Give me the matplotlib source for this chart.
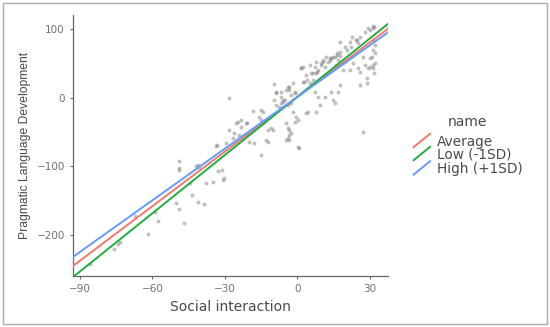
import matplotlib.pyplot as plt
import numpy as np
from matplotlib.lines import Line2D
from matplotlib.patches import Rectangle

plt.rcParams['font.family'] = ['DejaVu Sans']

# scatter points (Social interaction, Pragmatic Language Development)
social_x = [
    -76.0, -74.3, -73.5, -86.0, -67.1, -61.8, -59.1, -57.8,
    -49.0, -49.0, -48.8, -50.0, -48.8, -46.8, -44.4, -43.7,
    -41.9, -41.2, -40.7, -40.9, -38.8, -37.8, -34.7, -32.8, -30.9, -33.8,
    -28.2, -9.5, -8.8, -8.8, -6.7, -3.9, -3.2, -2.5, -1.1,
    -9.5, -8.8, -7.6, -6.9, -5.9, -5.2,
    -18.5, -15.0, -14.3, -25.4, -24.7, -23.3, -21.3, -20.6, -23.3,
    -28.2, -26.1, -24.0, -22.7, -33.1, -29.6, -26.8, -17.8, -19.9,
    -12.9, -12.2, -15.0, -15.7, -15.0, -13.6, -10.8, -10.2, -12.2,
    -4.6, -3.2, -2.5, -3.9, -3.2, 0.3, -31.0, -30.3,
    -6.7, -6.0, -4.6, -3.2, -1.8, -1.1, -3.9, -2.5,
    -1.8, -0.4, 0.3, -1.1, -3.9, -3.2, -4.6, 0.9,
    1.7, 3.7, 3.0, 5.1, 6.5, 7.2, 7.9, 8.6, 10.0, 10.7, 11.4, 12.1,
    12.8, 13.5, 14.8, 16.3, 16.9, 17.6,
    7.2, 8.6, 9.3, 7.9, 4.4, 3.7, 11.4, 14.2, 14.8, 15.5, 16.9, 17.6,
    19.0, 21.8, 23.2, 25.3, 26.0, 28.0, 29.4, 30.1, 31.5, 32.2, 30.1, 27.3,
    26.0, 28.8, 29.0, 31.5, 31.8, 27.3,
    31.5, 31.6, 31.3, 29.4, 30.1, 28.0, 26.0, 24.6, 22.5, 21.8, 19.7, 17.6,
    17.6, 16.3, 15.5, 14.2, 13.5, 10.7, 10.0,
    31.5, 32.2, 31.5, 32.2, 30.8, 5.1, 7.9, 2.3,
    1.5, 2.2, 4.1, 5.9, 6.6, 8.1, 16.2, 20.6, 22.1, 25.0, 24.3,
]
pragmatic_y = [
    -220.0, -212.7, -211.0, -243.0, -172.0, -199.5, -167.4, -180.0,
    -92.5, -103.2, -106.1, -154.3, -161.6, -182.5, -124.1, -142.1,
    -99.3, -98.8, -100.7, -151.8, -155.2, -124.1, -122.6, -106.6, -120.2, -70.1,
    -0.9, 20.0, 8.8, 6.4, 8.8, 15.2, 11.2, 4.0, 8.8,
    -3.4, -10.7, -13.0, -8.2, -5.8, -3.4,
    -19.0, -18.0, -20.4, -37.4, -35.0, -32.6, -37.4, -36.5, -42.3,
    -47.2, -52.0, -54.5, -57.0, -69.0, -66.6, -59.3, -66.6, -64.2,
    -61.8, -64.2, -83.7, -27.7, -32.6, -35.0, -44.7, -47.2, -47.2,
    -37.4, -47.2, -52.0, -59.3, -61.8, -71.6, -105.6, -117.7,
    1.5, -3.4, 11.2, 16.0, 21.0, 6.4, -10.7, -8.2,
    -20.4, -27.7, -32.6, -35.0, -44.7, -54.5, -61.8, -73.9,
    42.9, 33.1, 23.4, 21.0, 25.8, 45.3, 35.6, 40.4, 47.7, 55.0, 45.3, 59.9,
    52.6, 57.5, 59.9, 62.3, 55.0, 60.9,
    8.8, 1.5, -10.7, -20.4, -20.4, -22.8, 1.5, 8.8, -3.4, -8.2, 8.8, 18.5,
    40.4, 40.4, 50.1, 42.9, 38.0, 47.7, 42.9, 45.3, 47.7, 50.1, 57.5, 59.9,
    18.5, 28.3, 21.0, 42.9, 35.6, -49.6,
    104.7, 103.0, 101.5, 101.3, 98.9, 96.4, 89.1, 84.2, 89.1, 81.8, 74.5, 81.8,
    67.2, 64.8, 59.9, 57.5, 55.0, 52.6, 50.1,
    84.2, 76.9, 69.6, 64.8, 59.9, 47.7, 52.6, 45.3,
    42.8, 23.4, 25.8, 35.5, 36.5, 38.0, 47.7, 69.6, 74.5, 79.3, 84.2,
]

# simple slopes at three moderator levels: intercept, slope
line_names = ['Average', 'Low (-1SD)', 'High (+1SD)']
line_colors = ['#F8766D', '#1FAF3C', '#619CFF']
intercepts = [0.8, 1.2, 0.9]
slopes = [2.65, 2.83, 2.51]

x_range = [-92.8, 37.5]

fig = plt.figure(figsize=(5.5, 3.27), dpi=100)
ax = fig.add_axes([0.133, 0.156, 0.572, 0.798])

ax.scatter(social_x, pragmatic_y, s=8, color='#808080', alpha=0.5,
           linewidths=0, zorder=2)

xs = np.array(x_range)
for name, col, b0, b1 in zip(line_names, line_colors, intercepts, slopes):
    ax.plot(xs, b0 + b1 * xs, color=col, lw=1.4, zorder=3)

ax.set_xlim(x_range)
ax.set_ylim(-260, 120.5)
ax.set_xticks([-90, -60, -30, 0, 30])
ax.set_yticks([-200, -100, 0, 100])

for side in ['top', 'right']:
    ax.spines[side].set_visible(False)
for side in ['left', 'bottom']:
    ax.spines[side].set_color('#666666')
    ax.spines[side].set_linewidth(0.9)
ax.tick_params(colors='#666666', labelcolor='#707070', labelsize=7.5,
               length=2.5, width=0.8)

ax.set_xlabel('Social interaction', fontsize=10, color='#4a4a4a', labelpad=4)
ax.set_ylabel('Pragmatic Language Development', fontsize=8.7,
              family='Liberation Sans', color='#4a4a4a', labelpad=4)

# legend with diagonal keys
fig.text(0.85, 0.626, 'name', fontsize=10, color='#4a4a4a',
         ha='center', va='center')
key_y = [0.567, 0.527, 0.483]
for name, col, ky in zip(line_names, line_colors, key_y):
    fig.add_artist(Line2D([0.752, 0.782], [ky - 0.017, ky + 0.024],
                          transform=fig.transFigure, color=col, lw=1.4))
    fig.text(0.795, ky, name, fontsize=9.8, color='#4a4a4a',
             ha='left', va='center')

# border around picture
fig.add_artist(Rectangle((0.006, 0.008), 0.988, 0.984,
                         transform=fig.transFigure, fill=False,
                         edgecolor='#aaaaaa', lw=1))

fig.savefig('out.png', dpi=100)
